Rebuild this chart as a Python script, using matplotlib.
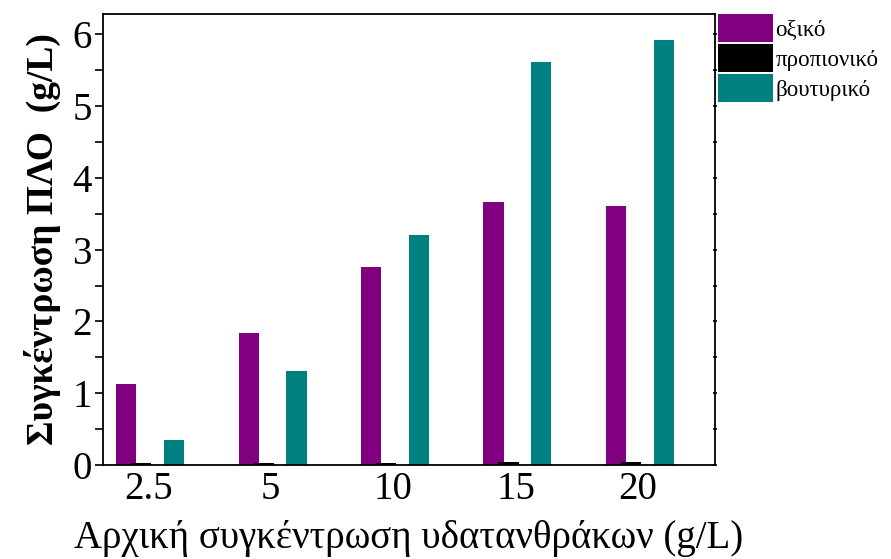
import matplotlib.pyplot as plt
import numpy as np
from matplotlib.ticker import MultipleLocator

plt.rcParams["font.family"] = ["Liberation Serif", "DejaVu Serif"]

# data
categories = ["2.5", "5", "10", "15", "20"]
series_names = ["οξικό", "προπιονικό", "βουτυρικό"]
acetic = [1.13, 1.84, 2.76, 3.66, 3.61]
propionic = [0.03, 0.03, 0.03, 0.04, 0.04]
butyric = [0.35, 1.31, 3.20, 5.61, 5.92]
colors = ["#800080", "#000000", "#008080"]

fig = plt.figure(figsize=(8.91, 5.59), dpi=100)
ax = fig.add_axes([0.1156, 0.168, 0.687, 0.807])

x = np.arange(len(categories))
width = 0.165
offsets = [-0.18, -0.057, 0.21]
handles = []
for vals, off, col, name in zip([acetic, propionic, butyric], offsets, colors, series_names):
    b = ax.bar(x + off, vals, width=width, color=col, label=name)
    handles.append(b)

ax.set_xlim(-0.37, 4.63)
ax.set_ylim(0, 6.28)
ax.set_xticks(x)
ax.set_xticklabels(categories)
ax.yaxis.set_major_locator(MultipleLocator(1))
ax.yaxis.set_minor_locator(MultipleLocator(0.5))
ax.tick_params(axis="x", length=0, labelsize=28, pad=4)
ax.tick_params(axis="y", which="major", direction="out", length=6, width=1.2,
               labelsize=28, pad=2, right=True)
ax.tick_params(axis="y", which="minor", direction="out", length=6, width=1.2, right=True)
for s in ax.spines.values():
    s.set_linewidth(1.3)

# small ticks on the right spine
for t in ax.yaxis.get_major_ticks() + ax.yaxis.get_minor_ticks():
    t.tick2line.set_marker("_")
    t.tick2line.set_markersize(3)

ax.set_ylabel("Συγκέντρωση ΠΛΟ  (g/L)", fontsize=27, fontweight="bold", labelpad=8)
ax.set_xlabel("Αρχική συγκέντρωση υδατανθράκων (g/L)", fontsize=28, labelpad=9)

ax.legend(handles=handles, loc="upper left", bbox_to_anchor=(1.004, 1.0),
          frameon=False, fontsize=16.5, handlelength=2.4, handleheight=1.5,
          handletextpad=0.12, labelspacing=0.09, borderaxespad=0.0, borderpad=0.0)

fig.savefig("out.png", dpi=100)
